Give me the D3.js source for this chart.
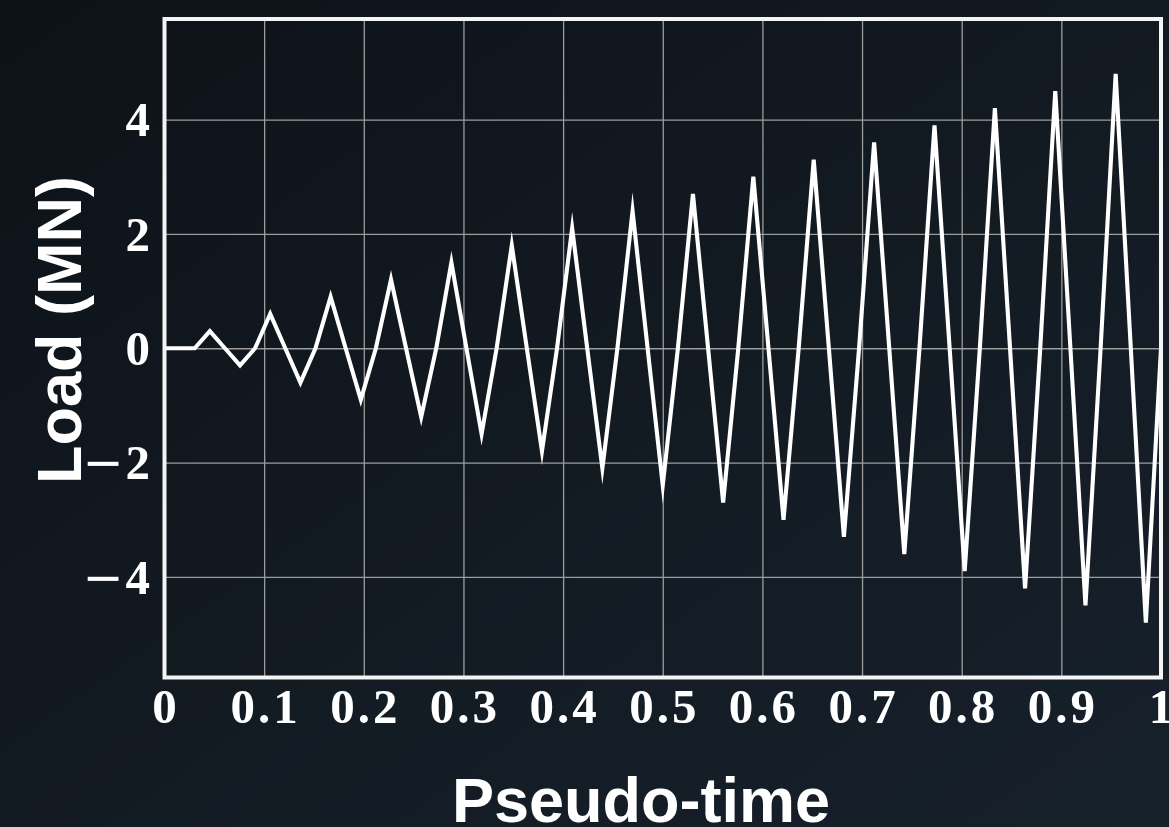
<!DOCTYPE html>
<html>
<head>
<meta charset="utf-8">
<script src="https://cdn.jsdelivr.net/npm/d3@7"></script>
<style>
  html, body { margin: 0; padding: 0; background: #0f151c; }
  svg { display: block; }
</style>
</head>
<body>
<svg id="chart" width="1169" height="827"></svg>
<script>
// ---- data ----
const time = [0, 0.0152, 0.0303, 0.0455, 0.0606, 0.0758, 0.0909, 0.1061, 0.1212, 0.1364,
  0.1515, 0.1667, 0.1818, 0.1970, 0.2121, 0.2273, 0.2424, 0.2576, 0.2727, 0.2879,
  0.3030, 0.3182, 0.3333, 0.3485, 0.3636, 0.3788, 0.3939, 0.4091, 0.4242, 0.4394,
  0.4545, 0.4697, 0.4848, 0.5, 0.5152, 0.5303, 0.5455, 0.5606, 0.5758, 0.5909,
  0.6061, 0.6212, 0.6364, 0.6515, 0.6667, 0.6818, 0.6970, 0.7121, 0.7273, 0.7424,
  0.7576, 0.7727, 0.7879, 0.8030, 0.8182, 0.8333, 0.8485, 0.8636, 0.8788, 0.8939,
  0.9091, 0.9242, 0.9394, 0.9545, 0.9697, 0.9848, 1];
const load = [0, 0, 0, 0.3, 0, -0.3, 0, 0.6, 0, -0.6,
  0, 0.9, 0, -0.9, 0, 1.2, 0, -1.2, 0, 1.5,
  0, -1.5, 0, 1.8, 0, -1.8, 0, 2.1, 0, -2.1,
  0, 2.4, 0, -2.4, 0, 2.7, 0, -2.7, 0, 3.0,
  0, -3.0, 0, 3.3, 0, -3.3, 0, 3.6, 0, -3.6,
  0, 3.9, 0, -3.9, 0, 4.2, 0, -4.2, 0, 4.5,
  0, -4.5, 0, 4.8, 0, -4.8, 0];
const xTicks = [0, 0.1, 0.2, 0.3, 0.4, 0.5, 0.6, 0.7, 0.8, 0.9, 1];
const xTickLabels = ["0", "0.1", "0.2", "0.3", "0.4", "0.5", "0.6", "0.7", "0.8", "0.9", "1"];
const yTicks = [-4, -2, 0, 2, 4];
const yTickLabels = ["−4", "−2", "0", "2", "4"];
const xTitle = "Pseudo-time";
const yTitle = "Load (MN)";

// ---- layout ----
const W = 1169, H = 827;
const L = 164.5, R = 1161, T = 19, B = 677.5;

const svg = d3.select("#chart");
const defs = svg.append("defs");
const grad = defs.append("linearGradient").attr("id", "bg")
  .attr("x1", "0").attr("y1", "0").attr("x2", "1").attr("y2", "1");
grad.append("stop").attr("offset", "0%").attr("stop-color", "#0d1218");
grad.append("stop").attr("offset", "100%").attr("stop-color", "#17212b");
svg.append("rect").attr("width", W).attr("height", H).attr("fill", "url(#bg)");

const x = d3.scaleLinear().domain([0, 1]).range([L, R]);
const y = d3.scaleLinear().domain([-5.76, 5.76]).range([B, T]);

// grid
const gx = svg.append("g").attr("transform", `translate(0,${B})`)
  .call(d3.axisBottom(x).tickValues(xTicks).tickSize(-(B - T)).tickFormat(""));
gx.select(".domain").remove();
gx.selectAll("line").attr("stroke", "#9c9c9c").attr("stroke-width", 1.3);

const gy = svg.append("g").attr("transform", `translate(${L},0)`)
  .call(d3.axisLeft(y).tickValues(yTicks).tickSize(-(R - L)).tickFormat(""));
gy.select(".domain").remove();
gy.selectAll("line").attr("stroke", "#9c9c9c").attr("stroke-width", 1.3);

// data line
const line = d3.line().x((d, i) => x(time[i])).y(d => y(d));
svg.append("path").datum(load)
  .attr("d", line)
  .attr("fill", "none")
  .attr("stroke", "#ffffff")
  .attr("stroke-width", 4.1)
  .attr("stroke-linejoin", "miter")
  .attr("stroke-miterlimit", 9.7);

// frame
svg.append("rect").attr("x", L).attr("y", T).attr("width", R - L).attr("height", B - T)
  .attr("fill", "none").attr("stroke", "#f4f4f4").attr("stroke-width", 4);

// tick labels
const serif = "'Liberation Serif', 'Times New Roman', serif";
svg.append("g").selectAll("text").data(xTicks).join("text")
  .attr("x", d => x(d) + 1.5)
  .attr("y", 723)
  .attr("text-anchor", "middle")
  .attr("font-family", serif)
  .attr("font-weight", "bold")
  .attr("font-size", 49)
  .attr("letter-spacing", 3)
  .attr("fill", "#ffffff")
  .text((d, i) => xTickLabels[i]);

const yl = svg.append("g").selectAll("text").data(yTicks).join("text")
  .attr("x", 150)
  .attr("y", d => y(d))
  .attr("dy", "0.34em")
  .attr("text-anchor", "end")
  .attr("font-family", serif)
  .attr("font-weight", "bold")
  .attr("font-size", 49)
  .attr("fill", "#ffffff");
yl.each(function(d, i) {
  const s = yTickLabels[i];
  const t = d3.select(this);
  if (s.startsWith("−")) {
    t.append("tspan").attr("font-family", "'DejaVu Sans', sans-serif").attr("font-weight", "normal")
      .attr("dx", 0).text("−");
    t.append("tspan").attr("dx", 2).text(s.slice(1));
  } else {
    t.text(s);
  }
});

// axis titles
const sans = "'Liberation Sans', Arial, Helvetica, sans-serif";
svg.append("text")
  .attr("x", 641).attr("y", 822)
  .attr("text-anchor", "middle")
  .attr("font-family", sans).attr("font-weight", "bold").attr("font-size", 63)
  .attr("fill", "#ffffff")
  .text(xTitle);
svg.append("text")
  .attr("transform", "translate(81,330) rotate(-90)")
  .attr("text-anchor", "middle")
  .attr("font-family", sans).attr("font-weight", "bold").attr("font-size", 63)
  .attr("fill", "#ffffff")
  .text(yTitle);
</script>
</body>
</html>
